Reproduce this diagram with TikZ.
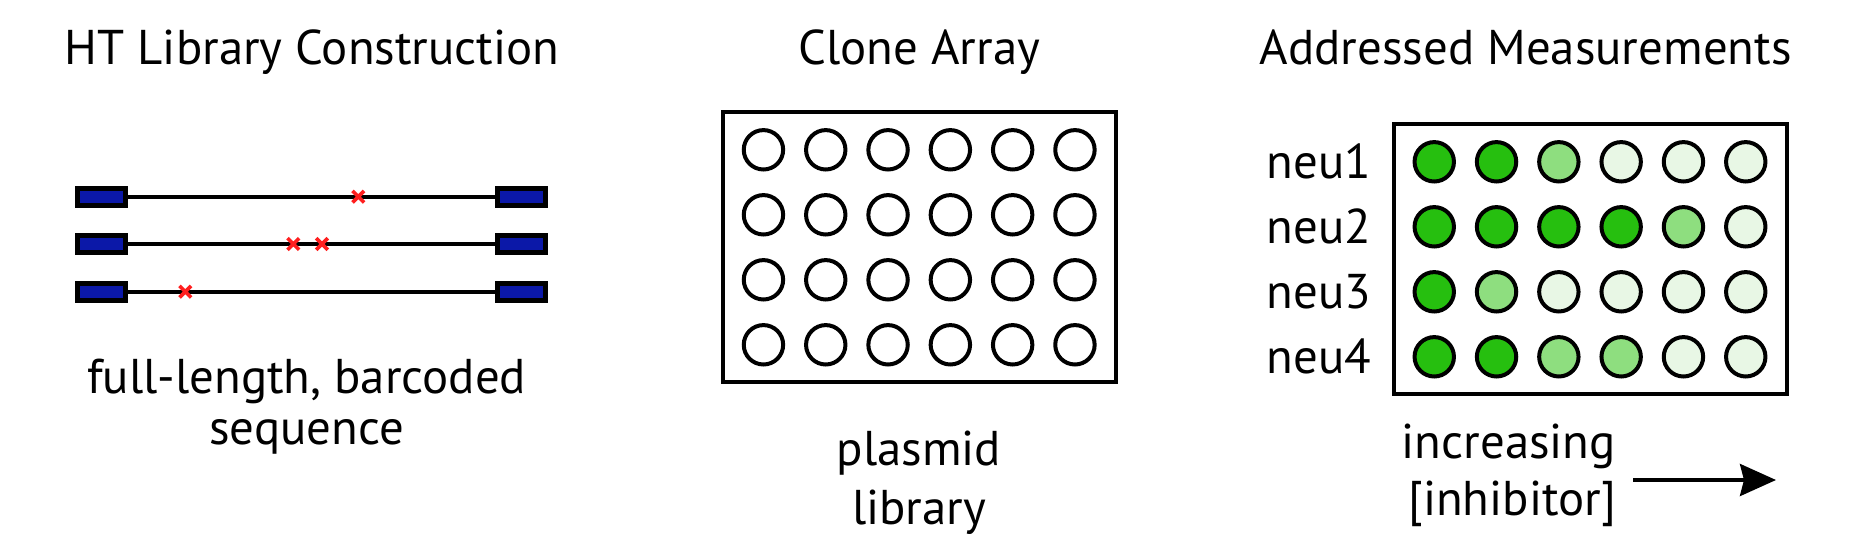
\documentclass[tikz,border=0pt]{standalone}
\usepackage{fontspec}
\setmainfont{PT Sans}
\usetikzlibrary{arrows.meta,shapes.misc,calc}
\definecolor{gD}{HTML}{26BF0F}
\definecolor{gM}{HTML}{8EDE7F}
\definecolor{gL}{HTML}{E8F7E5}
\definecolor{barblue}{HTML}{0B18A8}
\definecolor{mutred}{HTML}{FF1F1F}
\tikzset{
  lbl/.style={inner sep=0pt, font=\fontsize{49}{54}\selectfont, anchor=base},
  well/.style={circle, draw=black, line width=4bp, minimum size=39.4bp, inner sep=0pt},
  plate/.style={draw=black, line width=4bp, minimum width=393bp, minimum height=270bp, inner sep=0pt},
  barcode/.style={draw=black, fill=barblue, line width=5bp, minimum width=47.7bp, minimum height=17.3bp, inner sep=0pt},
  seqline/.style={line width=4bp},
  mut/.style={cross out, draw=mutred, line width=3.6bp, minimum size=8bp, inner sep=0pt},
}
\begin{document}
\begin{tikzpicture}[x=1bp,y=-1bp]
\useasboundingbox (0,0) rectangle (1857,560);
% titles
\node[lbl] (t1) at (312,65) {HT Library Construction};
\node[lbl] (t2) at (919.3,65) {Clone Array};
\node[lbl] (t3) at (1525.7,65) {Addressed Measurements};
% left panel: sequences
\foreach \r/\y in {1/196.7,2/244,3/291.7}{
  \node[barcode] (L\r) at (101.4,\y) {};
  \node[barcode] (R\r) at (521.7,\y) {};
  \draw[seqline] (L\r) -- (R\r);
}
\node[mut] (x1) at (358.3,196.7) {};
\node[mut] (x2) at (293.3,244) {};
\node[mut] (x3) at (322,244) {};
\node[mut] (x4) at (185.3,291.7) {};
\node[lbl] (b1a) at (306.7,393) {full-length, barcoded};
\node[lbl] (b1b) at (306.7,444) {sequence};
% middle panel
\node[plate] (P1) at (919.2,247.3) {};
\foreach \j in {0,...,3}{
  \foreach \i in {0,...,5}{
    \node[well] (m-\j-\i) at ($(P1)+({(\i-2.5)*62.3},{(\j-1.5)*65})$) {};
  }
}
\node[lbl] (b2a) at (919,465) {plasmid};
\node[lbl] (b2b) at (919,524) {library};
% right panel
\node[plate] (P2) at (1590,259.3) {};
\foreach \j/\cols in {0/{gD,gD,gM,gL,gL,gL},1/{gD,gD,gD,gD,gM,gL},2/{gD,gM,gL,gL,gL,gL},3/{gD,gD,gM,gM,gL,gL}}{
  \foreach \c [count=\k from 0] in \cols {
    \node[well, fill=\c] (a-\j-\k) at ($(P2)+({(\k-2.5)*62.3},{(\j-1.5)*65})$) {};
  }
}
\foreach \j/\n in {0/1,1/2,2/3,3/4}{
  \node[lbl, anchor=base west] (neu\n) at (1266.7,{178.3+\j*65}) {neu\n};
}
\node[lbl, anchor=base east] (inc1) at (1616,458) {increasing};
\node[lbl, anchor=base east] (inc2) at (1616,515) {[inhibitor]};
\coordinate (arS) at (1633,480);
\coordinate (arE) at (1776,480);
\draw[line width=3.6bp, -{Stealth[length=36bp,width=32bp,inset=4bp]}] (arS) -- (arE);
\end{tikzpicture}
\end{document}
